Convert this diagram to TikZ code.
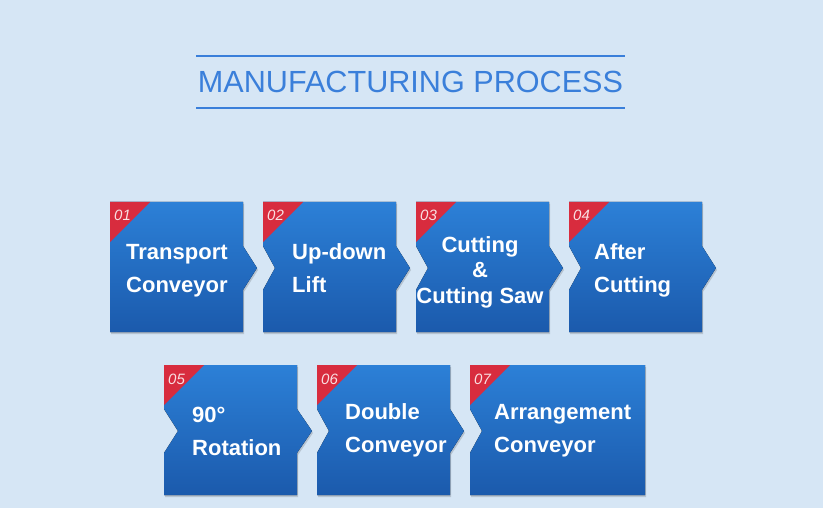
\documentclass[tikz,border=0pt]{standalone}
\usepackage{fontspec}
\setmainfont{Liberation Sans}
\usepackage{xcolor}
\usetikzlibrary{shadows}

\definecolor{bgblue}{RGB}{214,230,245}
\definecolor{titleblue}{RGB}{58,127,218}
\definecolor{boxtop}{RGB}{44,128,215}
\definecolor{boxbot}{RGB}{27,90,172}
\definecolor{cornerred}{RGB}{216,44,62}

\begin{document}
\begin{tikzpicture}[
        x=1pt, y=-1pt,
        stepbox/.style={top color=boxtop, bottom color=boxbot,
            drop shadow={shadow xshift=1pt, shadow yshift=-2pt, opacity=0.15, fill=black}},
        corner/.style={fill=cornerred},
        stepnum/.style={anchor=base west, inner sep=0pt, text=white!85!cornerred,
            font=\itshape\fontsize{15}{15}\selectfont},
        steptext/.style={anchor=base west, inner sep=0pt, text=white, align=left,
            font=\bfseries\fontsize{22}{33}\selectfont},
        titleline/.style={draw=titleblue, line width=2pt}
    ]
        % Background
        \fill[bgblue] (0,0) rectangle (823,508);
        \useasboundingbox (0,0) rectangle (823,508);

        % Title
        \node[text=titleblue, font=\fontsize{30.6}{30.6}\selectfont, anchor=base] (title) at (410.5,93) {MANUFACTURING PROCESS};
        \draw[titleline] (196,56) -- (625,56);
        \draw[titleline] (196,108) -- (625,108);

        % Step boxes: x / y / width / notch / arrow / number
        \foreach \x/\y/\w/\nl/\ar/\num in {110/202/133/0/14/01, 263/202/133/12/14/02,
                416/202/133/12/14/03, 569/202/133/12/14/04, 164/365/133/14/15/05,
                317/365/133/12/14/06, 470/365/175/12/0/07}{
            \fill[stepbox] (\x,\y) -- ++(\w,0) -- ++(0,44) -- ++(\ar,22) -- ++(-\ar,22)
                -- ++(0,42) -- ++(-\w,0) -- ++(0,-42) -- ++(\nl,-22) -- ++(-\nl,-22) -- cycle;
            \fill[corner] (\x,\y) -- ++(40,0) -- ++(-40,40) -- cycle;
            \node[stepnum] (n\num) at (\x+4,\y+19) {\num};
        }

        % Step texts (anchored on the last line)
        \node[steptext] (t1) at (126,293) {Transport\\Conveyor};
        \node[steptext] (t2) at (292,293) {Up-down\\Lift};
        \node[steptext, anchor=base, align=center, font=\bfseries\fontsize{22}{25.5}\selectfont] (t3) at (480,303) {Cutting\\\&\\Cutting Saw};
        \node[steptext] (t4) at (594,293) {After\\Cutting};
        \node[steptext] (t5) at (192,455) {90°\\Rotation};
        \node[steptext] (t6) at (345,452) {Double\\Conveyor};
        \node[steptext] (t7) at (494,452) {Arrangement\\Conveyor};
    \end{tikzpicture}
\end{document}
